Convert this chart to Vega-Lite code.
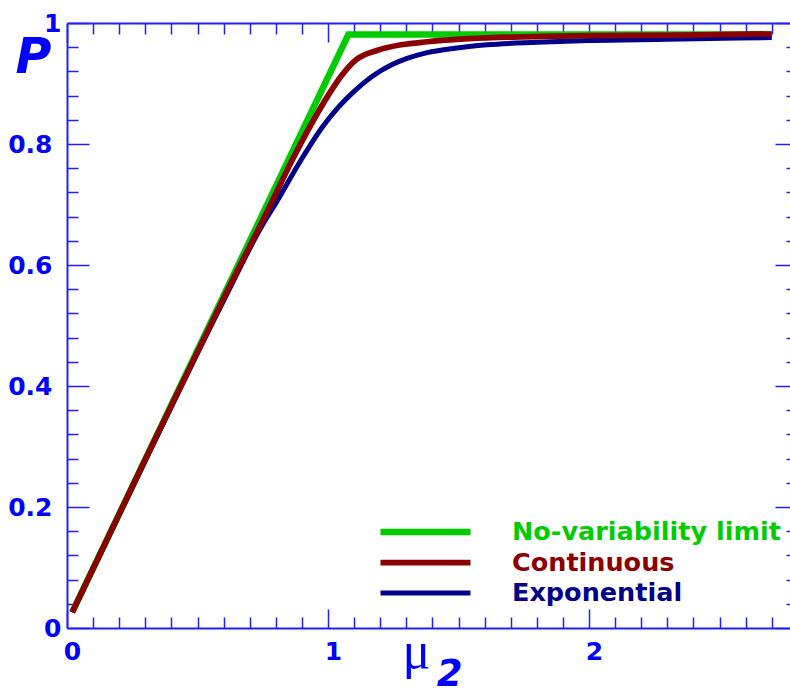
{
  "$schema": "https://vega.github.io/schema/vega-lite/v6.json",
  "width": 723,
  "height": 605,
  "autosize": {"type": "none"},
  "padding": {"left": 67, "top": 23, "right": 0, "bottom": 64},
  "background": "white",
  "config": {"view": {"stroke": null}, "font": "DejaVu Sans"},
  "data": {"values": [
    {"mu": 0.02, "P": 0.026, "series": "No-variability limit"},
    {"mu": 1.078, "P": 0.981, "series": "No-variability limit"},
    {"mu": 2.70, "P": 0.981, "series": "No-variability limit"},
    {"mu": 0.02, "P": 0.026, "series": "Exponential"},
    {"mu": 0.3, "P": 0.277, "series": "Exponential"},
    {"mu": 0.6, "P": 0.541, "series": "Exponential"},
    {"mu": 0.75, "P": 0.667, "series": "Exponential"},
    {"mu": 0.80, "P": 0.702, "series": "Exponential"},
    {"mu": 0.90, "P": 0.776, "series": "Exponential"},
    {"mu": 0.98, "P": 0.829, "series": "Exponential"},
    {"mu": 1.04, "P": 0.861, "series": "Exponential"},
    {"mu": 1.10, "P": 0.887, "series": "Exponential"},
    {"mu": 1.17, "P": 0.912, "series": "Exponential"},
    {"mu": 1.24, "P": 0.930, "series": "Exponential"},
    {"mu": 1.30, "P": 0.941, "series": "Exponential"},
    {"mu": 1.38, "P": 0.951, "series": "Exponential"},
    {"mu": 1.48, "P": 0.958, "series": "Exponential"},
    {"mu": 1.61, "P": 0.964, "series": "Exponential"},
    {"mu": 1.80, "P": 0.968, "series": "Exponential"},
    {"mu": 2.0, "P": 0.971, "series": "Exponential"},
    {"mu": 2.3, "P": 0.973, "series": "Exponential"},
    {"mu": 2.70, "P": 0.976, "series": "Exponential"},
    {"mu": 0.02, "P": 0.026, "series": "Continuous"},
    {"mu": 0.3, "P": 0.279, "series": "Continuous"},
    {"mu": 0.6, "P": 0.545, "series": "Continuous"},
    {"mu": 0.78, "P": 0.700, "series": "Continuous"},
    {"mu": 0.86, "P": 0.771, "series": "Continuous"},
    {"mu": 0.94, "P": 0.836, "series": "Continuous"},
    {"mu": 1.00, "P": 0.880, "series": "Continuous"},
    {"mu": 1.05, "P": 0.912, "series": "Continuous"},
    {"mu": 1.11, "P": 0.940, "series": "Continuous"},
    {"mu": 1.19, "P": 0.955, "series": "Continuous"},
    {"mu": 1.28, "P": 0.964, "series": "Continuous"},
    {"mu": 1.38, "P": 0.969, "series": "Continuous"},
    {"mu": 1.54, "P": 0.974, "series": "Continuous"},
    {"mu": 1.74, "P": 0.977, "series": "Continuous"},
    {"mu": 2.0, "P": 0.979, "series": "Continuous"},
    {"mu": 2.35, "P": 0.980, "series": "Continuous"},
    {"mu": 2.70, "P": 0.982, "series": "Continuous"}
  ]},
  "resolve": {"axis": {"x": "independent", "y": "independent"}},
  "layer": [
    {
      "encoding": {
        "x": {
          "field": "mu", "type": "quantitative",
          "scale": {"domain": [0, 2.77], "nice": false, "zero": false},
          "axis": {
            "orient": "bottom",
            "values": [0,0.1,0.2,0.3,0.4,0.5,0.6,0.7,0.8,0.9,1,1.1,1.2,1.3,1.4,1.5,1.6,1.7,1.8,1.9,2,2.1,2.2,2.3,2.4,2.5,2.6,2.7],
            "labelExpr": "abs(datum.value - round(datum.value)) < 0.001 ? format(datum.value, 'd') : ''",
            "tickSize": {"condition": {"test": "abs(datum.value - round(datum.value)) < 0.001", "value": -19}, "value": -11},
            "labelPadding": 30,
            "labelOffset": 5,
            "labelBaseline": "top",
            "labelFont": "DejaVu Sans", "labelFontWeight": "bold", "labelFontSize": 25, "labelColor": "#0000ff",
            "labelFlush": false, "labelOverlap": false, "labelBound": false,
            "domainColor": "#2020ff", "domainWidth": 2, "tickColor": "#2020ff", "tickWidth": 1.5,
            "grid": false,
            "title": "μ",
            "titleFont": "Liberation Serif", "titleFontWeight": "normal", "titleFontSize": 52, "titleColor": "#0000ff",
            "titleX": 349, "titleY": 39, "titleAlign": "center", "titleBaseline": "alphabetic", "titleAngle": 0
          }
        },
        "y": {
          "field": "P", "type": "quantitative",
          "scale": {"domain": [0, 1], "nice": false, "zero": false},
          "axis": {
            "orient": "left",
            "values": [0,0.04,0.08,0.12,0.16,0.2,0.24,0.28,0.32,0.36,0.4,0.44,0.48,0.52,0.56,0.6,0.64,0.68,0.72,0.76,0.8,0.84,0.88,0.92,0.96,1],
            "labelExpr": "abs(datum.value*5 - round(datum.value*5)) < 0.001 ? format(datum.value, '.1~f') : ''",
            "tickSize": {"condition": {"test": "abs(datum.value*5 - round(datum.value*5)) < 0.001", "value": -22}, "value": -11},
            "labelPadding": {"condition": {"test": "datum.value == 0 || datum.value == 1", "value": 28}, "value": 37},
            "labelAlign": "right", "labelBaseline": "middle",
            "labelFont": "DejaVu Sans", "labelFontWeight": "bold", "labelFontSize": 25, "labelColor": "#0000ff",
            "labelFlush": false, "labelOverlap": false, "labelBound": false,
            "domainColor": "#2020ff", "domainWidth": 2, "tickColor": "#2020ff", "tickWidth": 1.5,
            "grid": false,
            "title": "P",
            "titleFont": "DejaVu Sans", "titleFontWeight": "bold", "titleFontStyle": "italic", "titleFontSize": 49, "titleColor": "#0000ff",
            "titleX": -34, "titleY": 34, "titleAlign": "center", "titleBaseline": "middle", "titleAngle": 0
          }
        },
        "color": {
          "field": "series", "type": "nominal",
          "scale": {"domain": ["No-variability limit", "Continuous", "Exponential"], "range": ["#00cc00", "#8b0000", "#00008b"]},
          "legend": {
            "orient": "none", "legendX": 310, "legendY": 496,
            "title": null, "padding": 0,
            "symbolType": "stroke", "symbolSize": 8100, "symbolStrokeWidth": 4,
            "clipHeight": 26,
            "labelOffset": 38, "rowPadding": 3.5, "labelLimit": 500,
            "labelFont": "DejaVu Sans", "labelFontWeight": "bold", "labelFontSize": 25.5,
            "encode": {"labels": {"update": {"fill": {"scale": "color", "field": "value"}}}}
          }
        },
        "strokeWidth": {
          "field": "series", "type": "nominal",
          "scale": {"domain": ["No-variability limit", "Continuous", "Exponential"], "range": [6.5, 5, 4.5]},
          "legend": null
        }
      },
      "layer": [
        {
          "transform": [{"filter": "datum.series === 'No-variability limit'"}],
          "mark": {"type": "line", "interpolate": "linear", "strokeCap": "butt", "strokeJoin": "miter"}
        },
        {
          "transform": [{"filter": "datum.series !== 'No-variability limit'"}],
          "mark": {"type": "line", "interpolate": "monotone", "strokeCap": "butt"}
        }
      ]
    },
    {
      "mark": {"type": "point", "opacity": 0},
      "encoding": {
        "x": {
          "field": "mu", "type": "quantitative",
          "scale": {"domain": [0, 2.77], "nice": false, "zero": false},
          "axis": {
            "orient": "top",
            "values": [0,0.1,0.2,0.3,0.4,0.5,0.6,0.7,0.8,0.9,1,1.1,1.2,1.3,1.4,1.5,1.6,1.7,1.8,1.9,2,2.1,2.2,2.3,2.4,2.5,2.6,2.7],
            "labels": false,
            "tickSize": {"condition": {"test": "abs(datum.value - round(datum.value)) < 0.001", "value": -19}, "value": -11},
            "domainColor": "#2020ff", "domainWidth": 2, "tickColor": "#2020ff", "tickWidth": 1.5,
            "grid": false,
            "title": "2",
            "titleFont": "DejaVu Sans", "titleFontWeight": "bold", "titleFontStyle": "italic", "titleFontSize": 37, "titleColor": "#0000ff",
            "titleX": 382, "titleY": 662, "titleAlign": "center", "titleBaseline": "alphabetic", "titleAngle": 0
          }
        },
        "y": {
          "field": "P", "type": "quantitative",
          "scale": {"domain": [0, 1], "nice": false, "zero": false},
          "axis": {
            "orient": "right", "offset": 7,
            "values": [0,0.04,0.08,0.12,0.16,0.2,0.24,0.28,0.32,0.36,0.4,0.44,0.48,0.52,0.56,0.6,0.64,0.68,0.72,0.76,0.8,0.84,0.88,0.92,0.96,1],
            "labels": false,
            "tickSize": {"condition": {"test": "abs(datum.value*5 - round(datum.value*5)) < 0.001", "value": -22}, "value": -11},
            "domainColor": "#2020ff", "domainWidth": 2, "tickColor": "#2020ff", "tickWidth": 1.5,
            "grid": false, "title": null
          }
        }
      }
    }
  ]
}
